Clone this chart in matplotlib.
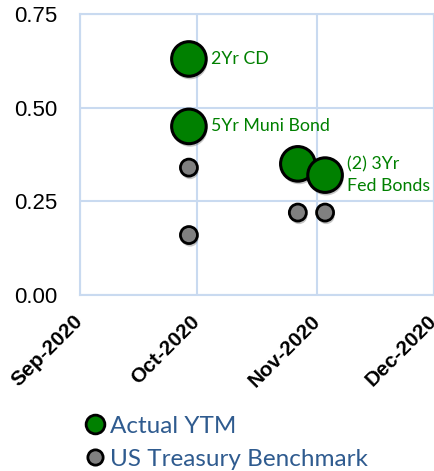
import matplotlib
matplotlib.use("Agg")
import matplotlib.pyplot as plt
import matplotlib.dates as mdates
import matplotlib.patheffects as pe
from matplotlib.lines import Line2D
import datetime as dt

actual_dates = ["2020-09-29", "2020-09-29", "2020-10-27", "2020-11-03"]
actual_ytm = [0.63, 0.45, 0.35, 0.32]
bench_dates = ["2020-09-29", "2020-09-29", "2020-10-27", "2020-11-03"]
bench_ytm = [0.34, 0.16, 0.22, 0.22]
labels = ["2Yr CD", "5Yr Muni Bond", "(2) 3Yr\nFed Bonds"]
label_idx = [0, 1, 3]
yticks = [0.0, 0.25, 0.50, 0.75]
xticks = ["2020-09-01", "2020-10-01", "2020-11-01", "2020-12-01"]
series_names = ["Actual YTM", "US Treasury Benchmark"]

to_d = lambda s: dt.datetime.strptime(s, "%Y-%m-%d")
ad = [to_d(s) for s in actual_dates]
bd = [to_d(s) for s in bench_dates]
xt = [to_d(s) for s in xticks]

fig = plt.figure(figsize=(4.35, 4.71), dpi=100)
ax = fig.add_axes([80/435, 1-295/471, 354/435, 281/471])

grid_c = "#C9DAF0"
shadow = [pe.SimplePatchShadow(offset=(0.8, -2.2), alpha=0.3, shadow_rgbFace="#444444"), pe.Normal()]

ax.scatter(bd, bench_ytm, s=150, c="#808080", edgecolors="black", linewidths=2, zorder=3, path_effects=shadow)
ax.scatter(ad, actual_ytm, s=620, c="#008000", edgecolors="black", linewidths=2.2, zorder=4, path_effects=shadow)

for lab, i in zip(labels, label_idx):
    ax.annotate(lab, (mdates.date2num(ad[i]), actual_ytm[i]), xytext=(16, 0), textcoords="offset points",
                color="#008000", fontsize=12.8, family="Lato", va="center", ha="left", linespacing=1.45)

ax.set_xlim(xt[0], xt[-1])
ax.set_ylim(0, 0.75)
ax.set_xticks(xt)
ax.set_xticklabels([d.strftime("%b-%Y") for d in xt], rotation=45, ha="right", va="center",
                   rotation_mode="anchor", fontsize=15, fontweight="bold", family="Liberation Sans")
ax.set_yticks(yticks)
ax.set_yticklabels([f"{v:.2f}" for v in yticks], fontsize=16, family="Liberation Sans")
ax.tick_params(length=0)
ax.tick_params(axis="x", pad=17)
ax.tick_params(axis="y", pad=16.5)
ax.grid(True, color=grid_c, linewidth=1.5)
ax.set_axisbelow(True)
for s in ax.spines.values():
    s.set_color(grid_c)
    s.set_linewidth(1.5)

handles = [Line2D([], [], marker="o", ls="", markersize=13.5, markerfacecolor="#008000", markeredgecolor="black", markeredgewidth=2),
           Line2D([], [], marker="o", ls="", markersize=11, markerfacecolor="#808080", markeredgecolor="black", markeredgewidth=2)]
leg = fig.legend(handles, series_names, loc="upper left", bbox_to_anchor=(73/435, 1-406/471), frameon=False,
                 handletextpad=0.12, handlelength=1.0, labelspacing=0.5, borderaxespad=0,
                 prop={"family": "Lato", "size": 17.5})
for t in leg.get_texts():
    t.set_color("#2F5B8F")

fig.savefig("out.png", dpi=100)
